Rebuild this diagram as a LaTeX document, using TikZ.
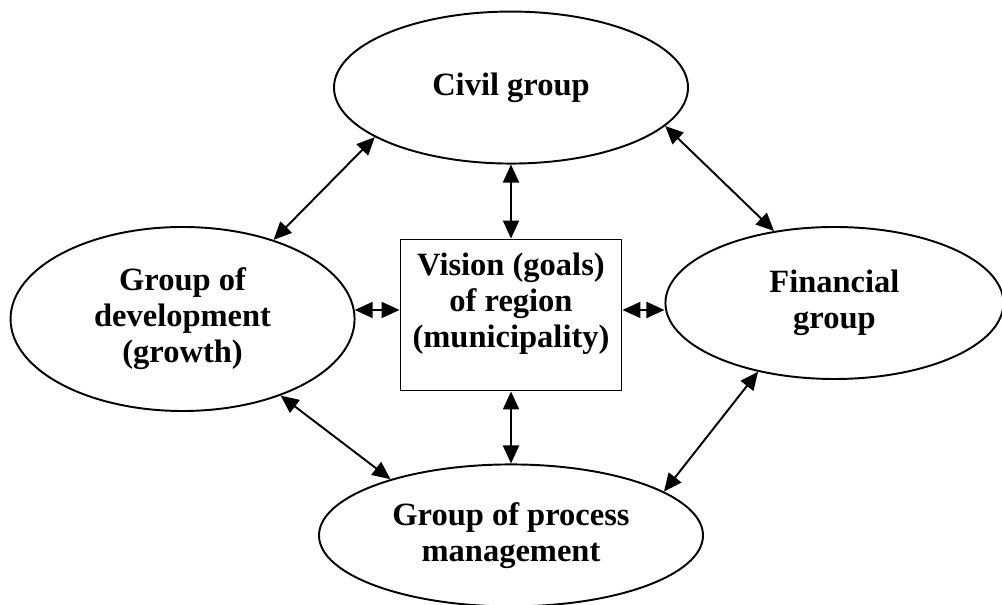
\documentclass[tikz,border=0pt]{standalone}
\usepackage{fontspec}
\setmainfont{Liberation Serif}
\usetikzlibrary{arrows.meta, positioning, shapes.geometric}

\begin{document}
\begin{tikzpicture}[
    every node/.style={font=\fontsize{18.5}{20.5}\selectfont\bfseries},
    group/.style={draw, ellipse, line width=1.1pt, align=center, inner sep=0pt},
    vbox/.style={draw, rectangle, line width=1.1pt, minimum width=4.42cm, minimum height=3.02cm},
    arrow/.style={{Triangle[length=0.36cm, width=0.32cm]}-{Triangle[length=0.36cm, width=0.32cm]}, line width=1.1pt}]

\useasboundingbox (0,0) rectangle (20.04,12.1);

\node[vbox] (vision) at (10.22,5.8) {};
\node[align=center] (visiontext) at ([yshift=0.22cm]vision.center) {Vision (goals)\\of region\\(municipality)};
\node[group, minimum width=7.08cm, minimum height=3.04cm, above=1.48cm of vision] (civil) {Civil group};
\node[group, minimum width=7.68cm, minimum height=2.84cm, below=1.44cm of vision] (process) {Group of process\\management};
\node[group, minimum width=6.88cm, minimum height=3.68cm, left=0.88cm of vision, yshift=-0.08cm] (dev) {Group of\\development\\(growth)};
\node[group, minimum width=6.76cm, minimum height=3.04cm, right=0.84cm of vision, yshift=0.24cm] (fin) {Financial\\group};

\draw[arrow] (civil.200) -- (dev.41);
\draw[arrow] (civil.346) -- (fin.130);
\draw[arrow] (dev.322) -- (process.155);
\draw[arrow] (fin.222) -- (process.16);
\draw[arrow] (civil.south) -- (vision.north);
\draw[arrow] (vision.south) -- (process.north);
\draw[arrow] (dev.3) -- (dev.3 -| vision.west);
\draw[arrow] (vision.east |- dev.3) -- (dev.3 -| fin.west);
\end{tikzpicture}
\end{document}
